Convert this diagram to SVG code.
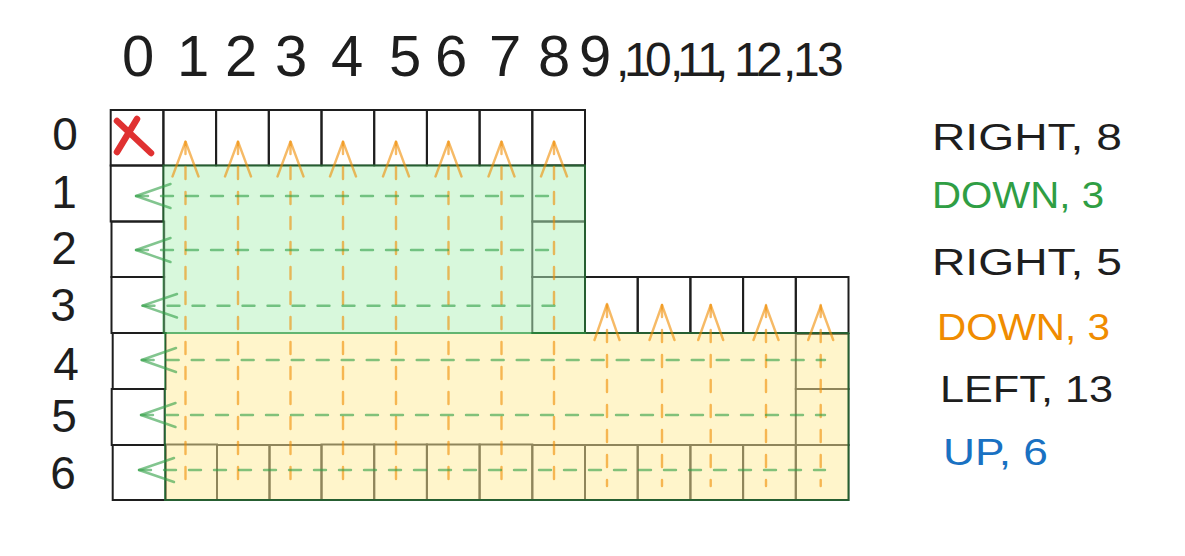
<svg xmlns="http://www.w3.org/2000/svg" width="1185" height="556" viewBox="0 0 1185 556">
<style>
.cell{fill:none;stroke:#1e1e1e;stroke-width:2}
.hand{font-family:"Liberation Sans","DejaVu Sans",sans-serif;fill:#1e1e1e}
.lbl{font-family:"Liberation Sans","DejaVu Sans",sans-serif;font-size:36px}
.orng{stroke:#f08c00;stroke-width:2.4;fill:none;stroke-linecap:round;stroke-linejoin:round;opacity:0.6}
.grn{stroke:#2f9e44;stroke-width:2.4;fill:none;stroke-linecap:round;stroke-linejoin:round;opacity:0.6}
.dash{stroke-dasharray:12 13}
</style>
<rect width="1185" height="556" fill="#ffffff"/>

<g id="column-numbers">
<text class="hand" font-size="58" y="76"><tspan x="122 177 225 275 331 389 435 489 538 579">0123456789</tspan><tspan font-size="48" x="616 624 645 670 677 697 715 734 756 783 793 817">,10,11,12,13</tspan></text>
</g>

<g id="row-numbers" class="hand" font-size="46" text-anchor="middle">
<text x="65" y="150">0</text>
<text x="64" y="208">1</text>
<text x="64" y="264">2</text>
<text x="63" y="321">3</text>
<text x="66" y="380">4</text>
<text x="64" y="432">5</text>
<text x="63" y="489">6</text>
</g>

<g id="grid-cells">
<g id="row0">
<rect class="cell" x="110.7" y="110" width="52.7" height="55.5"/>
<rect class="cell" x="163.4" y="110" width="52.7" height="55.5"/>
<rect class="cell" x="216.1" y="110" width="52.7" height="55.5"/>
<rect class="cell" x="268.8" y="110" width="52.7" height="55.5"/>
<rect class="cell" x="321.5" y="110" width="52.7" height="55.5"/>
<rect class="cell" x="374.2" y="110" width="52.7" height="55.5"/>
<rect class="cell" x="426.9" y="110" width="52.7" height="55.5"/>
<rect class="cell" x="479.6" y="110" width="52.7" height="55.5"/>
<rect class="cell" x="532.3" y="110" width="52.7" height="55.5"/>
</g>
<g id="col0">
<rect class="cell" x="110.7" y="165.5" width="52.7" height="56"/>
<rect class="cell" x="111.5" y="221.5" width="52.7" height="55.5"/>
<rect class="cell" x="111.5" y="277" width="52.7" height="56"/>
<rect class="cell" x="112.7" y="333" width="53" height="56"/>
<rect class="cell" x="111.7" y="389" width="53" height="56"/>
<rect class="cell" x="112.7" y="445" width="53" height="55"/>
</g>
<g id="row3">
<rect class="cell" x="585" y="277" width="52.7" height="56"/>
<rect class="cell" x="637.7" y="277" width="52.7" height="56"/>
<rect class="cell" x="690.4" y="277" width="52.7" height="56"/>
<rect class="cell" x="743.1" y="277" width="52.7" height="56"/>
<rect class="cell" x="795.8" y="277" width="52.7" height="56"/>
</g>
<g id="col8-under">
<rect class="cell" x="532.3" y="165.5" width="52.7" height="56"/>
<rect class="cell" x="532.3" y="221.5" width="52.7" height="55.5"/>
<rect class="cell" x="532.3" y="277" width="52.7" height="56"/>
</g>
<g id="col13-under">
<rect class="cell" x="795.8" y="334" width="52.7" height="55"/>
<rect class="cell" x="795.8" y="389" width="52.7" height="56"/>
</g>
<g id="row6-under">
<rect class="cell" x="165.5" y="444.5" width="51.5" height="55.5"/>
<rect class="cell" x="217" y="445" width="52.5" height="55"/>
<rect class="cell" x="269.5" y="445" width="52" height="55"/>
<rect class="cell" x="321.5" y="444.5" width="52.7" height="55.5"/>
<rect class="cell" x="374.2" y="444.5" width="52.7" height="55.5"/>
<rect class="cell" x="426.9" y="444.5" width="52.7" height="55.5"/>
<rect class="cell" x="479.6" y="444.5" width="52.7" height="55.5"/>
<rect class="cell" x="532.3" y="445" width="52.7" height="55"/>
<rect class="cell" x="585" y="445" width="52.7" height="55"/>
<rect class="cell" x="637.7" y="445" width="52.7" height="55"/>
<rect class="cell" x="690.4" y="445" width="52.7" height="55"/>
<rect class="cell" x="743.1" y="445" width="52.7" height="55"/>
<rect class="cell" x="795.8" y="445" width="52.7" height="55"/>
</g>
</g>

<g id="green-block" opacity="0.5">
<rect x="163.4" y="165.5" width="421.6" height="167.5" fill="#b2f2bb" stroke="#2f9e44" stroke-width="2"/>
</g>
<g id="yellow-block" opacity="0.5">
<rect x="165" y="333" width="683.5" height="167" fill="#ffec99" stroke="#2f9e44" stroke-width="2"/>
</g>

<g id="start-marker">
<path d="M117 121 L151 153 M137 119 L117 152" stroke="#e03131" stroke-width="6.5" stroke-linecap="round" fill="none"/>
</g>

<g id="connectors">
<g id="up-arrows">
<path class="orng dash" d="M185.5 142 V488 M238 142 V488 M290.5 142 V488 M343 142 V488 M396 142 V488 M448.5 142 V488 M501.5 142 V488 M554 142 V488"/>
<path class="orng" d="M172.5 176.5 L185.5 141.5 L198.5 176.5 M225 176.5 L238 141.5 L251 176.5 M277.5 176.5 L290.5 141.5 L303.5 176.5 M330 176.5 L343 141.5 L356 176.5 M383 176.5 L396 141.5 L409 176.5 M435.5 176.5 L448.5 141.5 L461.5 176.5 M488.5 176.5 L501.5 141.5 L514.5 176.5 M541 176.5 L554 141.5 L567 176.5"/>
<path class="orng dash" d="M607 305 V486 M662 305 V486 M710.7 305 V486 M766 305 V486 M820.7 305 V486"/>
<path class="orng" d="M594.5 340 L607 304 L619.5 340 M649.5 340 L662 305 L674.5 340 M698.2 340 L710.7 305 L723.2 340 M753.5 340 L766 306 L778.5 340 M808.2 340 L820.7 306 L833.2 340"/>
</g>
<g id="left-arrows">
<path class="grn dash" d="M136 196 H560 M136 250 H560 M142.5 305.7 H567 M141.7 360 H825 M141 415 H825 M139 470 H825"/>
<path class="grn" d="M170.5 184 L136 196 L170.5 208 M170.5 238 L136 250 L170.5 262 M177 294 L142.5 305.7 L177 317.5 M176 348 L141.7 360 L176 372 M175.5 403 L141 415 L175.5 427 M174 458 L139 470 L174 482"/>
</g>
</g>

<g id="instructions" class="lbl">
<text x="932" y="150" fill="#1e1e1e" textLength="190" lengthAdjust="spacingAndGlyphs">RIGHT, 8</text>
<text x="932" y="208" fill="#2f9e44" textLength="172" lengthAdjust="spacingAndGlyphs">DOWN, 3</text>
<text x="932" y="275" fill="#1e1e1e" textLength="190" lengthAdjust="spacingAndGlyphs">RIGHT, 5</text>
<text x="937" y="340" fill="#f08c00" textLength="173" lengthAdjust="spacingAndGlyphs">DOWN, 3</text>
<text x="940" y="402" fill="#1e1e1e" textLength="173" lengthAdjust="spacingAndGlyphs">LEFT, 13</text>
<text x="943" y="465" fill="#1971c2" textLength="105" lengthAdjust="spacingAndGlyphs">UP, 6</text>
</g>
</svg>
